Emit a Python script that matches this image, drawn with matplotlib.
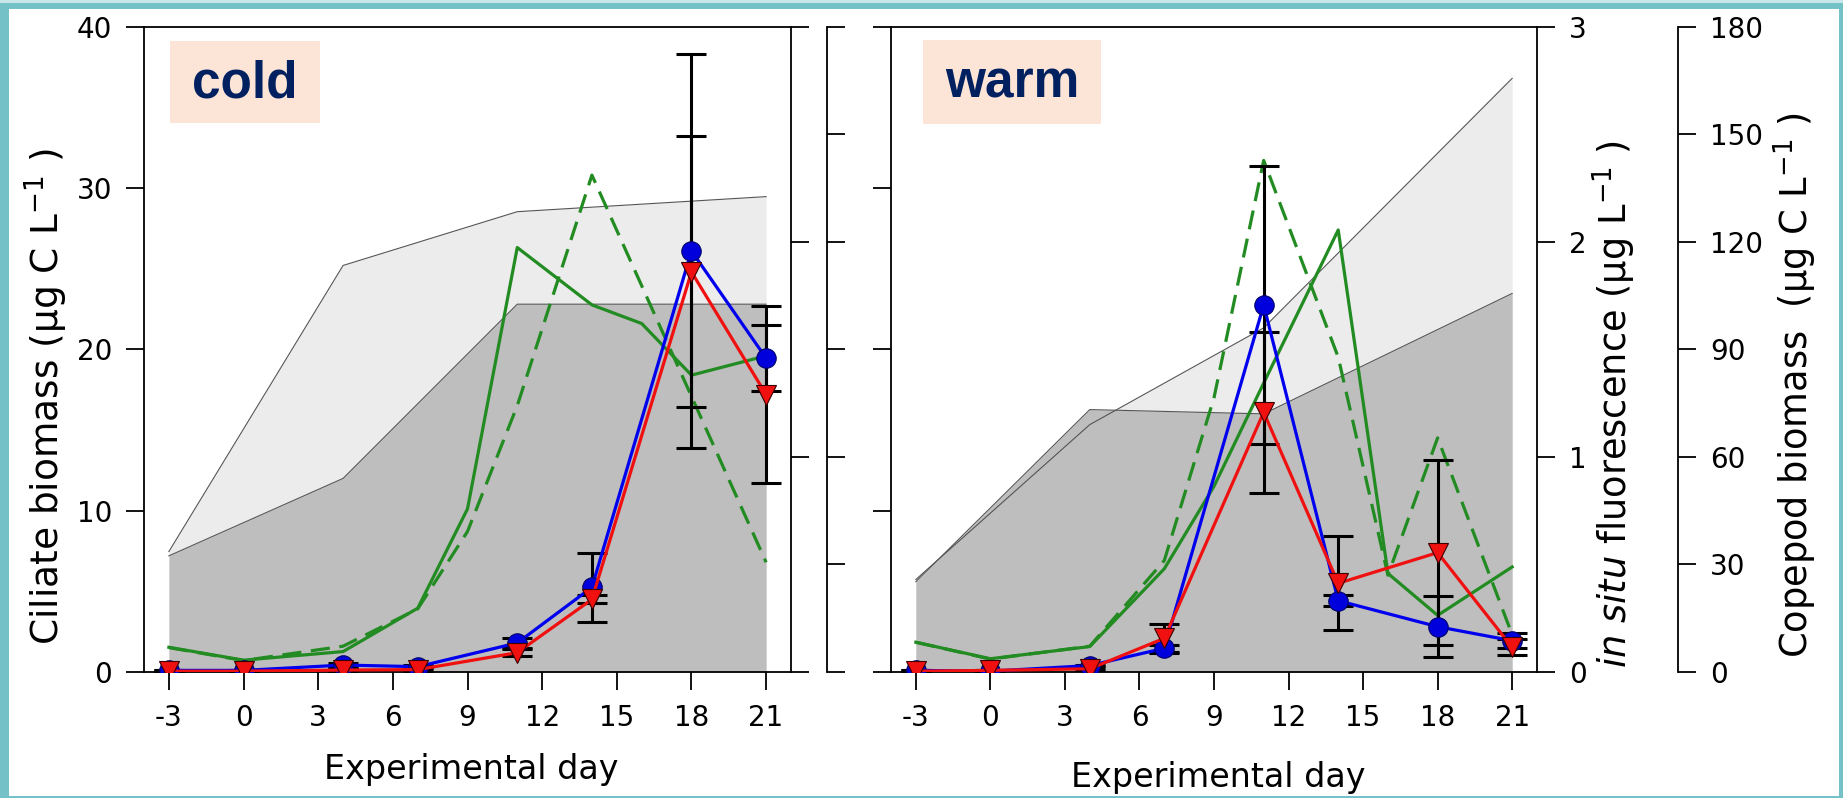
import matplotlib.pyplot as plt
from matplotlib.patches import Rectangle

# ciliate biomass (ug C/L), mean and SE
days = [-3, 0, 4, 7, 11, 14, 18, 21]
cold_blue = [0.1, 0.1, 0.43, 0.33, 1.8, 5.25, 26.1, 19.45]
cold_blue_se = [0.05, 0.05, 0.1, 0.1, 0.3, 2.15, 12.2, 2.05]
cold_red = [0.05, 0.05, 0.12, 0.15, 1.2, 4.5, 24.8, 17.2]
cold_red_se = [0.05, 0.05, 0.1, 0.1, 0.2, 0.25, 8.4, 5.5]
warm_blue = [0.1, 0.05, 0.4, 1.47, 22.75, 4.42, 2.81, 1.94]
warm_blue_se = [0.05, 0.05, 0.05, 0.2, 8.6, 0.33, 1.9, 0.45]
warm_red = [0.05, 0.1, 0.2, 2.09, 16.1, 5.5, 7.4, 1.53]
warm_red_se = [0.05, 0.05, 0.05, 0.9, 5.0, 2.9, 5.75, 0.5]

# in situ fluorescence (ug/L)
fl_days = [-3, 4, 11, 21]
cold_fl_light = [0.56, 1.89, 2.14, 2.21]
cold_fl_dark = [0.54, 0.90, 1.71, 1.71]
warm_fl_light = [0.43, 1.15, 1.60, 2.76]
warm_fl_dark = [0.42, 1.22, 1.20, 1.76]

# copepod biomass (ug C/L)
cop_days = [-3, 0, 4, 7, 9, 11, 14, 16, 18, 21]
cold_cop_solid = [6.9, 3.3, 5.7, 17.8, 45.5, 118.4, 102.4, 97.2, 82.8, 88.2]
cold_dash_days = [-3, 0, 4, 7, 9, 11, 14, 21]
cold_cop_dash = [6.8, 3.2, 7.2, 17.6, 39.2, 74.3, 138.6, 30.6]
warm_cop_solid = [8.3, 3.7, 7.1, 28.8, 51.8, 80.6, 123.3, 27.5, 15.8, 29.3]
warm_dash_days = cop_days
warm_cop_dash = [8.3, 3.6, 7.2, 31.1, 76.5, 142.7, 87.8, 27.0, 65.3, 10.4]

plt.rcParams['font.family'] = 'DejaVu Sans'
plt.rcParams['mathtext.fontset'] = 'dejavusans'
plt.rcParams['axes.unicode_minus'] = False

W, H = 1843, 798
fig = plt.figure(figsize=(W / 100, H / 100), dpi=100)


def box(x0, y0, x1, y1):
    # pixel box (top-left origin) -> figure fraction rect
    return [x0 / W, 1 - y1 / H, (x1 - x0) / W, (y1 - y0) / H]


def add_rect(x0, y0, x1, y1, color, z):
    fig.patches.append(Rectangle((x0 / W, 1 - y1 / H), (x1 - x0) / W, (y1 - y0) / H,
                                 transform=fig.transFigure, facecolor=color,
                                 edgecolor='none', zorder=z))


# teal frame
add_rect(0, 0, W, H, '#74c2c8', -10)
add_rect(0, 0, W, 2.7, '#c6e6e9', -9)
add_rect(9, 9.3, 1839, 796, 'white', -9)

tick_kw = dict(direction='out', length=13, width=1.3, labelsize=20, pad=10)


def panel(rect, cop_off, fl_light, fl_dark, cop_solid, dash_days, cop_dash,
          blue, blue_se, red, red_se, right_labels):
    ax = fig.add_axes(rect)
    ax_fl = ax.twinx()
    ax_cop = ax.twinx()
    ax_fl.set_zorder(1)
    ax_cop.set_zorder(2)
    ax.set_zorder(3)
    ax.patch.set_visible(False)

    ax_fl.fill_between(fl_days, fl_light, 0, color='#ececec', lw=0)
    ax_fl.fill_between(fl_days, fl_dark, 0, color='#bebebe', lw=0)
    ax_fl.plot(fl_days, fl_light, color='#555555', lw=0.8)
    ax_fl.plot(fl_days, fl_dark, color='#555555', lw=0.8)
    ax_fl.set_ylim(0, 3)
    ax_fl.set_yticks([0, 1, 2, 3])

    ax_cop.plot(cop_days, cop_solid, color='#228b22', lw=2.3)
    ax_cop.plot(dash_days, cop_dash, color='#228b22', lw=2.3, ls=(0, (6, 3)))
    ax_cop.set_ylim(0, 180)
    ax_cop.set_yticks(range(0, 181, 30))
    ax_cop.spines['right'].set_position(('outward', cop_off))

    ax.errorbar(days, blue, yerr=blue_se, fmt='none', ecolor='black',
                elinewidth=2.2, capsize=11, capthick=2.2, zorder=2)
    ax.errorbar(days, red, yerr=red_se, fmt='none', ecolor='black',
                elinewidth=2.2, capsize=11, capthick=2.2, zorder=2)
    ax.plot(days, blue, color='#0000ee', lw=2.3, marker='o', ms=14,
            mfc='#0000dd', mec='#00006a', mew=0.8, zorder=3)
    ax.plot(days, red, color='#f01010', lw=2.3, marker='v', ms=14.5,
            mfc='#f01010', mec='#3a0000', mew=0.8, zorder=4)
    ax.set_xlim(-4, 22)
    ax.set_ylim(0, 40)
    ax.set_xticks(range(-3, 22, 3))
    ax.set_yticks(range(0, 41, 10))

    for a in (ax, ax_fl, ax_cop):
        a.tick_params(**tick_kw)
        for s in a.spines.values():
            s.set_linewidth(1.3)
    ax.spines['right'].set_visible(False)
    for a in (ax_fl, ax_cop):
        for s in ('left', 'top', 'bottom'):
            a.spines[s].set_visible(False)
    ax_fl.tick_params(labelright=right_labels)
    ax_cop.tick_params(labelright=right_labels)
    return ax


ax1 = panel(box(144, 26.7, 791, 672), 26, cold_fl_light, cold_fl_dark,
            cold_cop_solid, cold_dash_days, cold_cop_dash,
            cold_blue, cold_blue_se, cold_red, cold_red_se, False)
ax2 = panel(box(891, 26.7, 1537, 672), 101.5, warm_fl_light, warm_fl_dark,
            warm_cop_solid, warm_dash_days, warm_cop_dash,
            warm_blue, warm_blue_se, warm_red, warm_red_se, True)
ax2.tick_params(labelleft=False)

# axis titles
fig.text(46 / W, 1 - 397 / H, 'Ciliate biomass (µg C L$^{-1}$ )', rotation=90,
         ha='center', va='center', fontsize=27)
fig.text(471 / W, 1 - 770 / H, 'Experimental day', ha='center', va='center', fontsize=24)
fig.text(1218 / W, 1 - 778 / H, 'Experimental day', ha='center', va='center', fontsize=24)
fig.text(1614 / W, 1 - 404 / H, r'$\it{in\ situ}$ fluorescence (µg L$^{-1}$ )',
         rotation=90, ha='center', va='center', fontsize=26.5)
fig.text(1795 / W, 1 - 385 / H, 'Copepod biomass  (µg C L$^{-1}$ )', rotation=90,
         ha='center', va='center', fontsize=26.5)

# treatment tags
add_rect(170, 41, 320, 123, '#fce4d6', 20)
add_rect(923, 40, 1101, 124, '#fce4d6', 20)
fig.text(245 / W, 1 - 84 / H, 'cold', ha='center', va='center', fontsize=37,
         fontweight='bold', family='Liberation Sans', color='#002060', zorder=21)
fig.text(1012 / W, 1 - 84 / H, 'warm', ha='center', va='center', fontsize=37,
         fontweight='bold', family='Liberation Sans', color='#002060', zorder=21)

fig.savefig('out.png', dpi=100)
